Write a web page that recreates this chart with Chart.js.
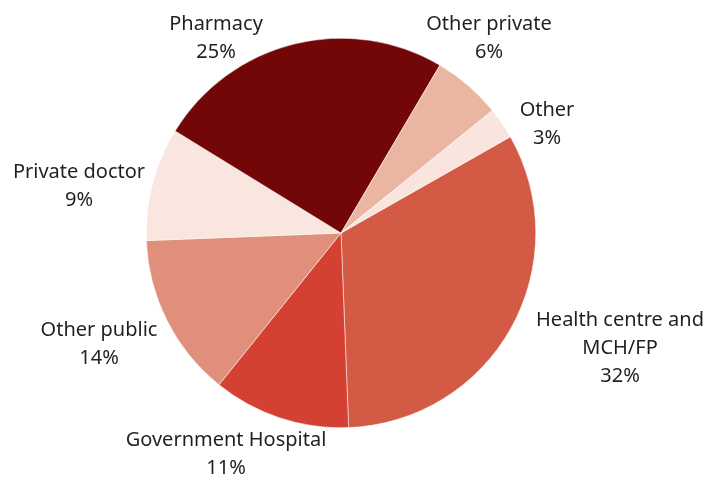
<!DOCTYPE html>
<html>
<head>
<meta charset="utf-8">
<script src="https://cdn.jsdelivr.net/npm/chart.js@4"></script>
<style>
  html, body { margin: 0; padding: 0; background: #fff; }
  #wrap { width: 708px; height: 477px; }
</style>
</head>
<body>
<div id="wrap"><canvas id="pieChart" width="708" height="477"></canvas></div>
<script>
const categories = ['Health centre and MCH/FP', 'Government Hospital', 'Other public', 'Private doctor', 'Pharmacy', 'Other private', 'Other'];
const shares = [32.6, 11.4, 13.6, 9.4, 24.7, 5.7, 2.6];
const sliceColors = ['#d35a44', '#d44133', '#df8f7a', '#f9e6df', '#730707', '#eab6a2', '#f9e5de'];

// label lines and where each label block is centred
const labelLines = [
  ['Health centre and', 'MCH/FP', '32%'],
  ['Government Hospital', '11%'],
  ['Other public', '14%'],
  ['Private doctor', '9%'],
  ['Pharmacy', '25%'],
  ['Other private', '6%'],
  ['Other', '3%']
];
const labelAt = [[620, 348], [226, 454], [99, 344], [79, 186], [216, 38], [489, 38], [547, 124]];

const outsideLabels = {
  id: 'outsideLabels',
  afterDraw(chart) {
    const ctx = chart.ctx;
    ctx.save();
    ctx.fillStyle = '#231f20';
    ctx.font = '20px "Noto Sans", sans-serif';
    ctx.textAlign = 'center';
    ctx.textBaseline = 'middle';
    labelLines.forEach((lines, i) => {
      const [x, y] = labelAt[i];
      const top = y - (lines.length - 1) * 28 / 2;
      lines.forEach((t, j) => ctx.fillText(t, x, top + j * 28));
    });
    ctx.restore();
  }
};

new Chart(document.getElementById('pieChart'), {
  type: 'pie',
  data: {
    labels: categories,
    datasets: [{
      data: shares,
      backgroundColor: sliceColors,
      borderColor: '#ffffff',
      borderWidth: 0.5
    }]
  },
  options: {
    responsive: false,
    animation: false,
    rotation: 60.4,
    layout: { padding: { left: 146, right: 172, top: 38, bottom: 49 } },
    plugins: { legend: { display: false }, tooltip: { enabled: false } }
  },
  plugins: [outsideLabels]
});
</script>
</body>
</html>
